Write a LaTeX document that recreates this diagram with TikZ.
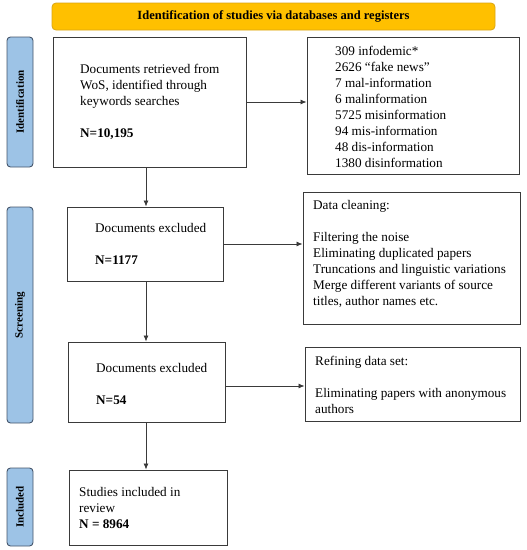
\documentclass[tikz,border=0pt]{standalone}
\usepackage{fontspec}
\setmainfont{Liberation Serif}
\usetikzlibrary{arrows.meta,calc}
\definecolor{gold}{HTML}{FFC000}
\definecolor{goldedge}{HTML}{D9A514}
\definecolor{sideblue}{HTML}{9DC3E6}
\definecolor{sideedge}{HTML}{44546A}
\definecolor{boxedge}{HTML}{3A3A3A}
\begin{document}
\begin{tikzpicture}[x=1pt,y=-1pt,
 box/.style={draw=boxedge,line width=0.9pt,fill=white,inner sep=0pt},
 side/.style={draw=sideedge,fill=sideblue,rounded corners=3.5pt,line width=0.9pt,inner sep=0pt,minimum width=26pt},
 sidetxt/.style={rotate=90,font=\bfseries\fontsize{11}{12}\selectfont,inner sep=0pt},
 txt/.style={align=left,inner sep=0pt,font=\fontsize{13.2}{16}\selectfont},
 arr/.style={draw=boxedge,line width=0.8pt,-{Latex[length=6pt,width=5pt]}}]
\useasboundingbox (0,0) rectangle (527,550);

% banner
\node[draw=goldedge,fill=gold,rounded corners=4pt,line width=0.8pt,minimum width=443pt,minimum height=27pt,inner sep=0pt,font=\bfseries\fontsize{12.5}{14}\selectfont] (ban) at (273.5,16.5) {Identification of studies via databases and registers};

% side labels
\node[side,minimum height=130pt] (s1) at (20,102) {};
\node[sidetxt] (s1t) at (s1.center) {Identification};
\node[side,minimum height=216pt] (s2) at (20,315) {};
\node[sidetxt] (s2t) at (s2.center) {Screening};
\node[side,minimum height=78pt] (s3) at (20,507) {};
\node[sidetxt] (s3t) at (s3.center) {Included};

% main column boxes
\node[box,minimum width=193pt,minimum height=130pt] (b1) at (149.5,102) {};
\node[txt,anchor=west] (t1) at (80,102) {Documents retrieved from\\WoS, identified through\\keywords searches\\[16pt]\textbf{N=10,195}};

\node[box,minimum width=156pt,minimum height=74pt] (b2) at (145,244) {};
\node[txt,anchor=west] (t2) at (95,243.5) {Documents excluded\\[16pt]\textbf{N=1177}};

\node[box,minimum width=157pt,minimum height=80pt] (b3) at (146.5,382) {};
\node[txt,anchor=west] (t3) at (96,384) {Documents excluded\\[16pt]\textbf{N=54}};

\node[box,minimum width=158pt,minimum height=75pt] (b4) at (148,507.5) {};
\node[txt,anchor=west] (t4) at (79,507.5) {Studies included in\\review\\\textbf{N = 8964}};

% right column boxes
\node[box,minimum width=212pt,minimum height=137pt] (r1) at (413,105.5) {};
\node[txt,anchor=west] (u1) at (335,107) {309 infodemic*\\2626 “fake news”\\7 mal-information\\6 malinformation\\5725 misinformation\\94 mis-information\\48 dis-information\\1380 disinformation};

\node[box,minimum width=217pt,minimum height=132pt] (r2) at (411.5,258) {};
\node[txt,anchor=west] (u2) at (313,253.5) {Data cleaning:\\[16pt]Filtering the noise\\Eliminating duplicated papers\\Truncations and linguistic variations\\Merge different variants of source\\titles, author names etc.};

\node[box,minimum width=215pt,minimum height=74pt] (r3) at (412.5,384) {};
\node[txt,anchor=west] (u3) at (315,385) {Refining data set:\\[16pt]Eliminating papers with anonymous\\authors};

% connectors
\coordinate (cx) at (146,0);
\draw[arr] (b1.south -| cx) -- (b2.north -| cx);
\draw[arr] (b2.south -| cx) -- (b3.north -| cx);
\draw[arr] (b3.south -| cx) -- (b4.north -| cx);
\draw[arr] (b1.east) -- (b1.east -| r1.west);
\draw[arr] (b2.east) -- (b2.east -| r2.west);
\draw[arr] ([yshift=-4pt]b3.east) -- ([yshift=-4pt]b3.east -| r3.west);
\end{tikzpicture}
\end{document}
